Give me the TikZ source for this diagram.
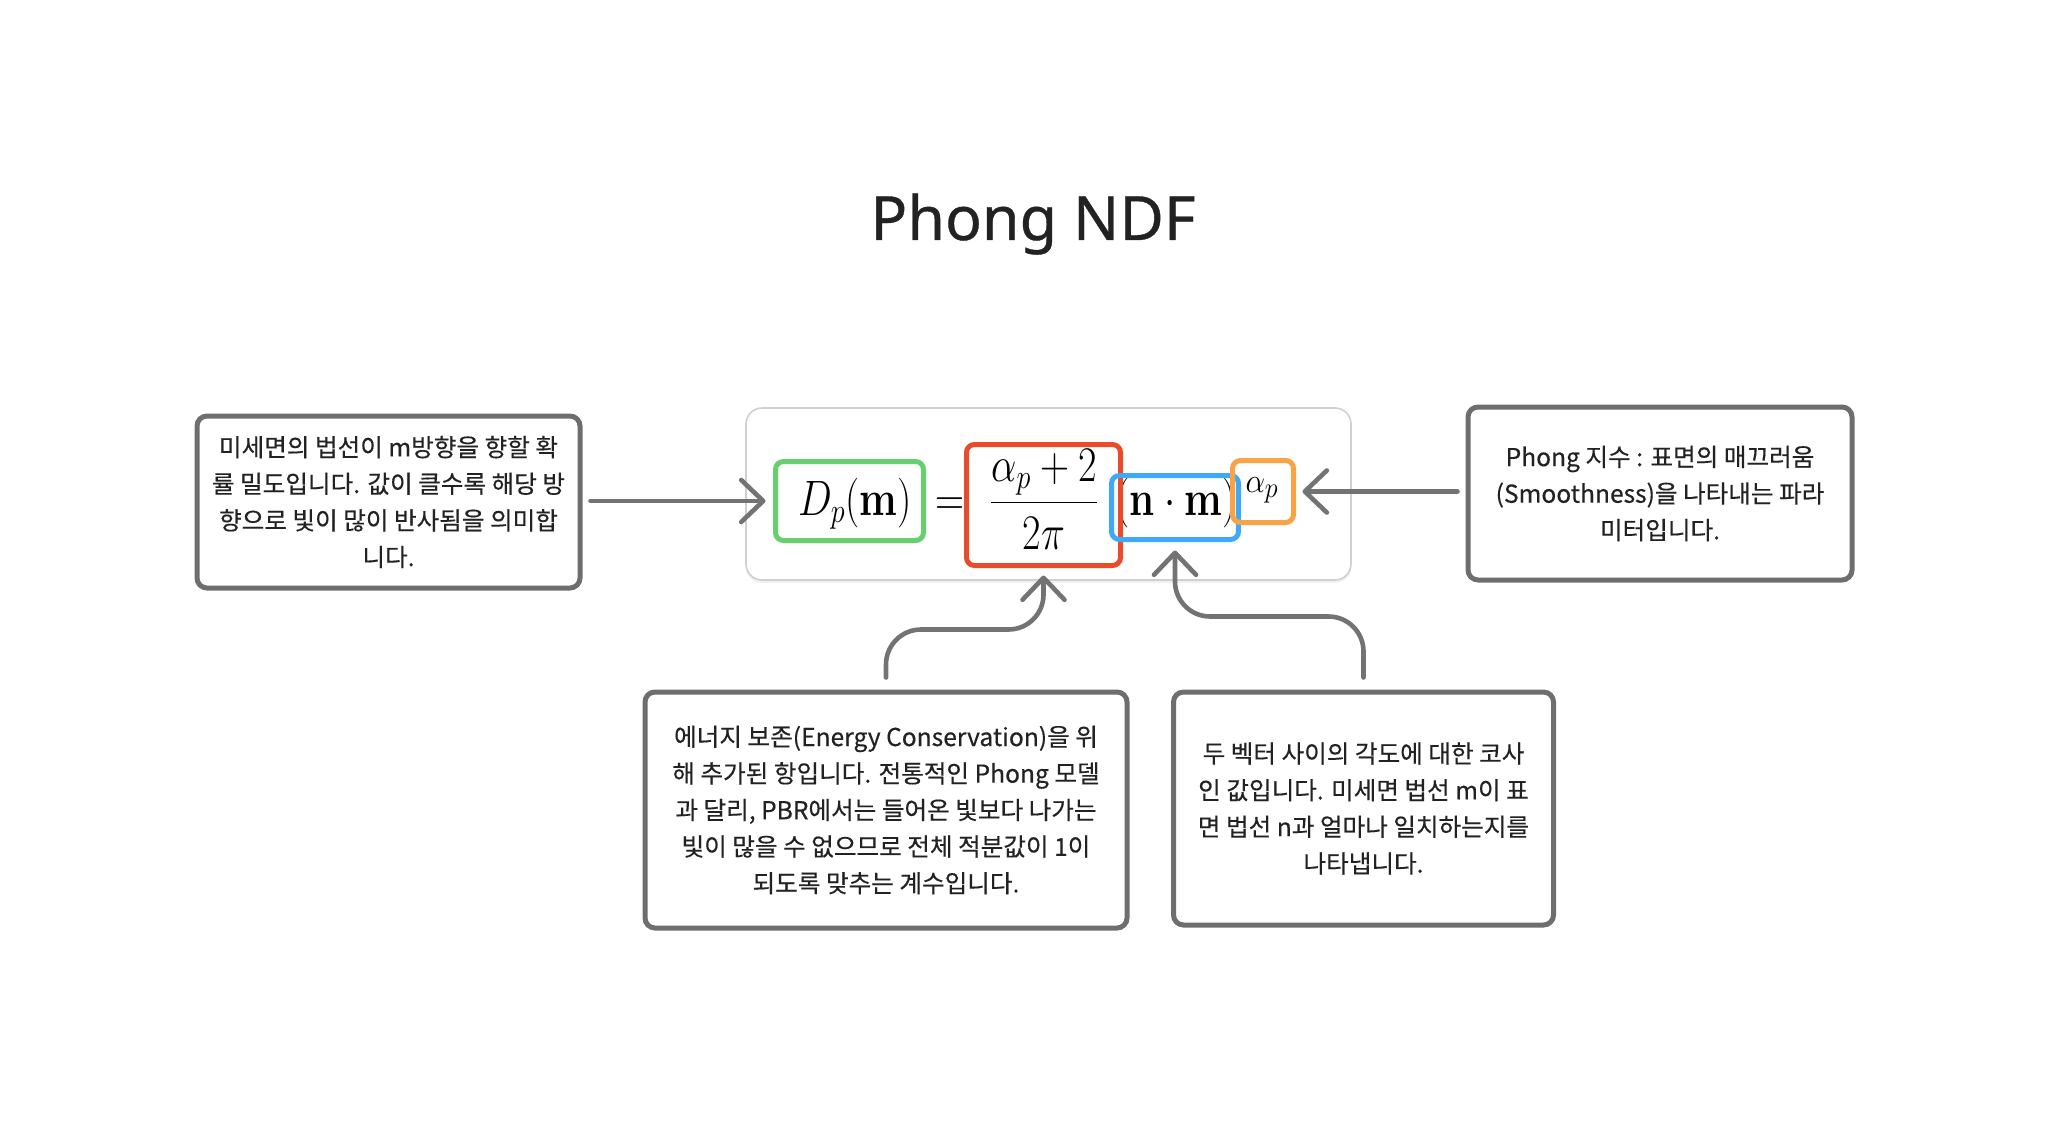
\documentclass[tikz,border=0pt]{standalone}
\usepackage[no-math]{fontspec}
\usepackage{graphicx}
\usetikzlibrary{arrows.meta,shadows,calc}
\newfontfamily\kofont{Noto Sans CJK KR}[FakeBold=0.35]
\newfontfamily\titlefont{Noto Sans}[FakeBold=0.6]
\definecolor{txt}{HTML}{222222}
\definecolor{conngray}{HTML}{737373}
\definecolor{boxgray}{HTML}{6E6E6E}
\definecolor{lightb}{HTML}{D0D0D0}
\definecolor{cgreen}{HTML}{66CF6E}
\definecolor{cred}{HTML}{E94B2B}
\definecolor{cblue}{HTML}{3FA9F5}
\definecolor{corange}{HTML}{F9A346}
\newcommand{\mth}[1]{\fontsize{25.5}{30}\selectfont\scalebox{0.81}[1]{$\displaystyle #1$}}
\tikzset{
  x=0.5pt, y=-0.5pt,
  notebox/.style={draw=boxgray, line width=2.5pt, rounded corners=5pt, fill=white,
    align=center, text=txt, font={\kofont\fontsize{12.3}{18.3}\selectfont}, inner sep=0pt},
  hlbox/.style={line width=2.5pt, rounded corners=4pt, inner sep=0pt},
  conn/.style={draw=conngray, line width=2.3pt, line cap=round, line join=round,
    -{Straight Barb[length=11pt,width=21pt,round]}},
}
\begin{document}
\begin{tikzpicture}
\useasboundingbox (0,0) rectangle (2048,1128);
% title
\node[anchor=base, text=txt, font={\titlefont\fontsize{30.5}{36}\selectfont}] (title) at (1033,240) {Phong NDF};
% formula container
\node[draw=lightb, line width=0.8pt, rounded corners=8pt, fill=white,
  drop shadow={opacity=0.12, shadow xshift=0pt, shadow yshift=-1.5pt},
  minimum width=302.5pt, minimum height=86pt, inner sep=0pt] (frame) at (1048.5,494) {};
% highlight boxes
\node[hlbox, minimum width=71.5pt, minimum height=37pt] (green) at (849.5,501) {};
\node[hlbox, minimum width=74.5pt, minimum height=58pt] (red) at (1043.5,505) {};
\node[hlbox, minimum width=61pt, minimum height=29.5pt] (blue) at (1175,507.5) {};
\node[hlbox, minimum width=28pt, minimum height=28.5pt] (orange) at (1263,491.5) {};
% formula pieces
\node[anchor=base, inner sep=0pt] (dpm) at (855,515) {\mth{D_p(\mathbf{m})}};
\node[anchor=base, inner sep=0pt] (eq) at (950,515) {\mth{=}};
\node[anchor=base, inner sep=0pt] (frac) at (1044,515) {\mth{\frac{\alpha_p+2}{2\pi}}};
\node[anchor=base, inner sep=0pt] (nm) at (1176,515) {\mth{(\mathbf{n}\cdot\mathbf{m})}};
\node[inner sep=0pt] (ap) at (1262,490) {\fontsize{27}{30}\selectfont\scalebox{0.9}[1]{$\scriptstyle\alpha_p$}};
% redraw borders over text
\draw[cgreen, line width=2.5pt, rounded corners=4pt] (green.south west) rectangle (green.north east);
\draw[cred, line width=2.5pt, rounded corners=4pt] (red.south west) rectangle (red.north east);
\draw[cblue, line width=2.5pt, rounded corners=4pt] (blue.south west) rectangle (blue.north east);
\draw[corange, line width=2.5pt, rounded corners=4pt] (orange.south west) rectangle (orange.north east);
% note boxes
\node[notebox, minimum width=191.5pt, minimum height=86pt] (lbox) at (388.5,502)
  {미세면의 법선이 m방향을 향할 확\\률 밀도입니다. 값이 클수록 해당 방\\향으로 빛이 많이 반사됨을 의미합\\니다.};
\node[notebox, minimum width=192pt, minimum height=86.5pt] (rbox) at (1660,493.5)
  {Phong 지수 : 표면의 매끄러움\\(Smoothness)을 나타내는 파라\\미터입니다.};
\node[notebox, minimum width=241pt, minimum height=118pt] (bl) at (886,810)
  {에너지 보존(Energy Conservation)을 위\\해 추가된 항입니다. 전통적인 Phong 모델\\과 달리, PBR에서는 들어온 빛보다 나가는\\빛이 많을 수 없으므로 전체 적분값이 1이\\되도록 맞추는 계수입니다.};
\node[notebox, minimum width=190pt, minimum height=116.5pt] (br) at (1363.5,808.5)
  {두 벡터 사이의 각도에 대한 코사\\인 값입니다. 미세면 법선 m이 표\\면 법선 n과 얼마나 일치하는지를\\나타냅니다.};
% connectors
\draw[conn] ([xshift=4pt]lbox.east |- green.west) -- ([xshift=-5pt]green.west);
\draw[conn] ([xshift=-4pt]rbox.west |- orange.east) -- ([xshift=4.5pt]orange.east);
\draw[conn, rounded corners=17.5pt] ([yshift=6pt]bl.north) |- ([yshift=-32pt]red.south) -- ([yshift=-5pt]red.south);
\draw[conn, rounded corners=17.5pt] ([yshift=6pt]br.north) |- ([yshift=-38.5pt]blue.south) -- ([yshift=-5.5pt]blue.south);
\end{tikzpicture}
\end{document}
